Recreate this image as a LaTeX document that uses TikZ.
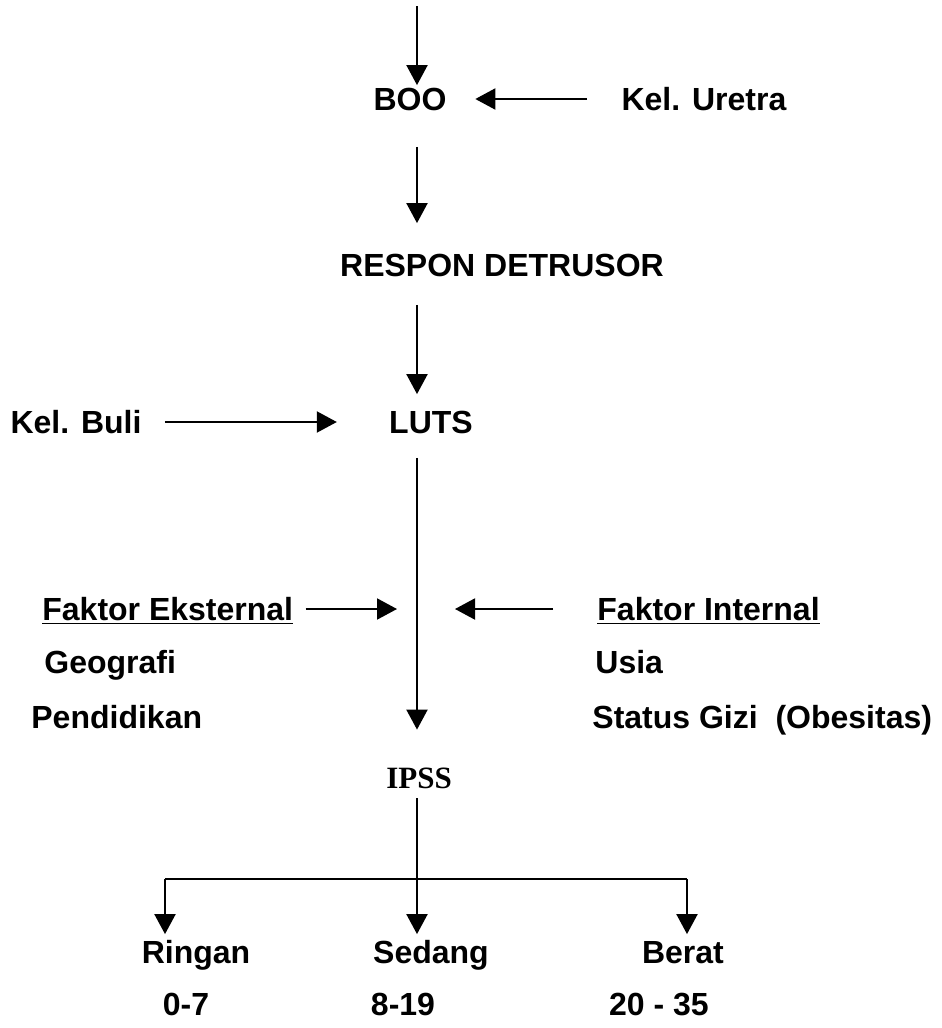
\documentclass[tikz,border=0pt]{standalone}
\usepackage{fontspec}
\setmainfont{Liberation Sans}
\newfontfamily\ipssfont{Liberation Serif}
\usetikzlibrary{arrows.meta}

\begin{document}
\begin{tikzpicture}[x=0.5pt,y=-0.5pt,
  lbl/.style={inner sep=0pt,text height=11.5pt,text depth=0pt,font=\fontsize{16}{19}\selectfont\bfseries},
  arr/.style={-{Triangle[length=10pt,width=10.5pt]},line width=1pt}]
\useasboundingbox (0,0) rectangle (942,1028);
% main column
\coordinate (top) at (417,6);
\node[lbl] (boo) at (410,99) {BOO};
\node[lbl] (uretra) at (704,99) {Kel. Uretra};
\node[lbl] (respon) at (502,265) {RESPON DETRUSOR};
\node[lbl] (luts) at (431,422) {LUTS};
\node[lbl] (buli) at (76,422) {Kel. Buli};
\draw[arr,shorten >=1pt] (top) -- (top |- boo.north);
\draw[arr,shorten <=17pt,shorten >=14.25pt] (uretra.west) -- (uretra.west -| boo.east);
\draw[arr,shorten <=18pt,shorten >=15pt] (top |- boo.south) -- (top |- respon.north);
\draw[arr,shorten <=14pt,shorten >=8pt] (top |- respon.south) -- (top |- luts.north);
\draw[arr,shorten <=11.5pt,shorten >=26pt] (buli.east) -- (luts.west);
% faktor
\node[lbl,anchor=west] (ekst) at (42,609) {\underline{Faktor Eksternal}};
\node[lbl,anchor=west] (geo) at (44,662) {Geografi};
\node[lbl,anchor=west] (pend) at (31,717) {Pendidikan};
\node[lbl,anchor=west] (intern) at (597,609) {\underline{Faktor Internal}};
\node[lbl,anchor=west] (usia) at (595,662) {Usia};
\node[lbl,anchor=west] (gizi) at (592,717) {Status Gizi\ \ (Obesitas)};
\node[lbl,font=\fontsize{15.5}{18}\selectfont\ipssfont\bfseries] (ipss) at (419,777) {IPSS};
\draw[arr,shorten <=12pt,shorten >=17.75pt] (top |- luts.south) -- (top |- ipss.north);
\draw[arr,shorten <=6pt,shorten >=10pt] (ekst.east) -- (ekst.east -| top);
\draw[arr,shorten <=22pt,shorten >=19pt] (intern.west) -- (intern.west -| top);
% kategori IPSS
\node[lbl] (ringan) at (196,952) {Ringan};
\node[lbl] (sedang) at (431,952) {Sedang};
\node[lbl] (berat) at (683,952) {Berat};
\node[lbl] (skor1) at (186,1004) {0-7};
\node[lbl] (skor2) at (403,1004) {8-19};
\node[lbl] (skor3) at (659,1004) {20 - 35};
\coordinate (bar) at (417,879);
\coordinate (bl) at (165,879);
\coordinate (br) at (687,879);
\draw[line width=1pt,shorten <=4.75pt] (top |- ipss.south) -- (bar);
\draw[line width=1pt] (bl) -- (br);
\draw[arr,shorten >=3pt] (bl) -- (bl |- ringan.north);
\draw[arr,shorten >=3pt] (bar) -- (bar |- sedang.north);
\draw[arr,shorten >=3pt] (br) -- (br |- berat.north);
\end{tikzpicture}
\end{document}
